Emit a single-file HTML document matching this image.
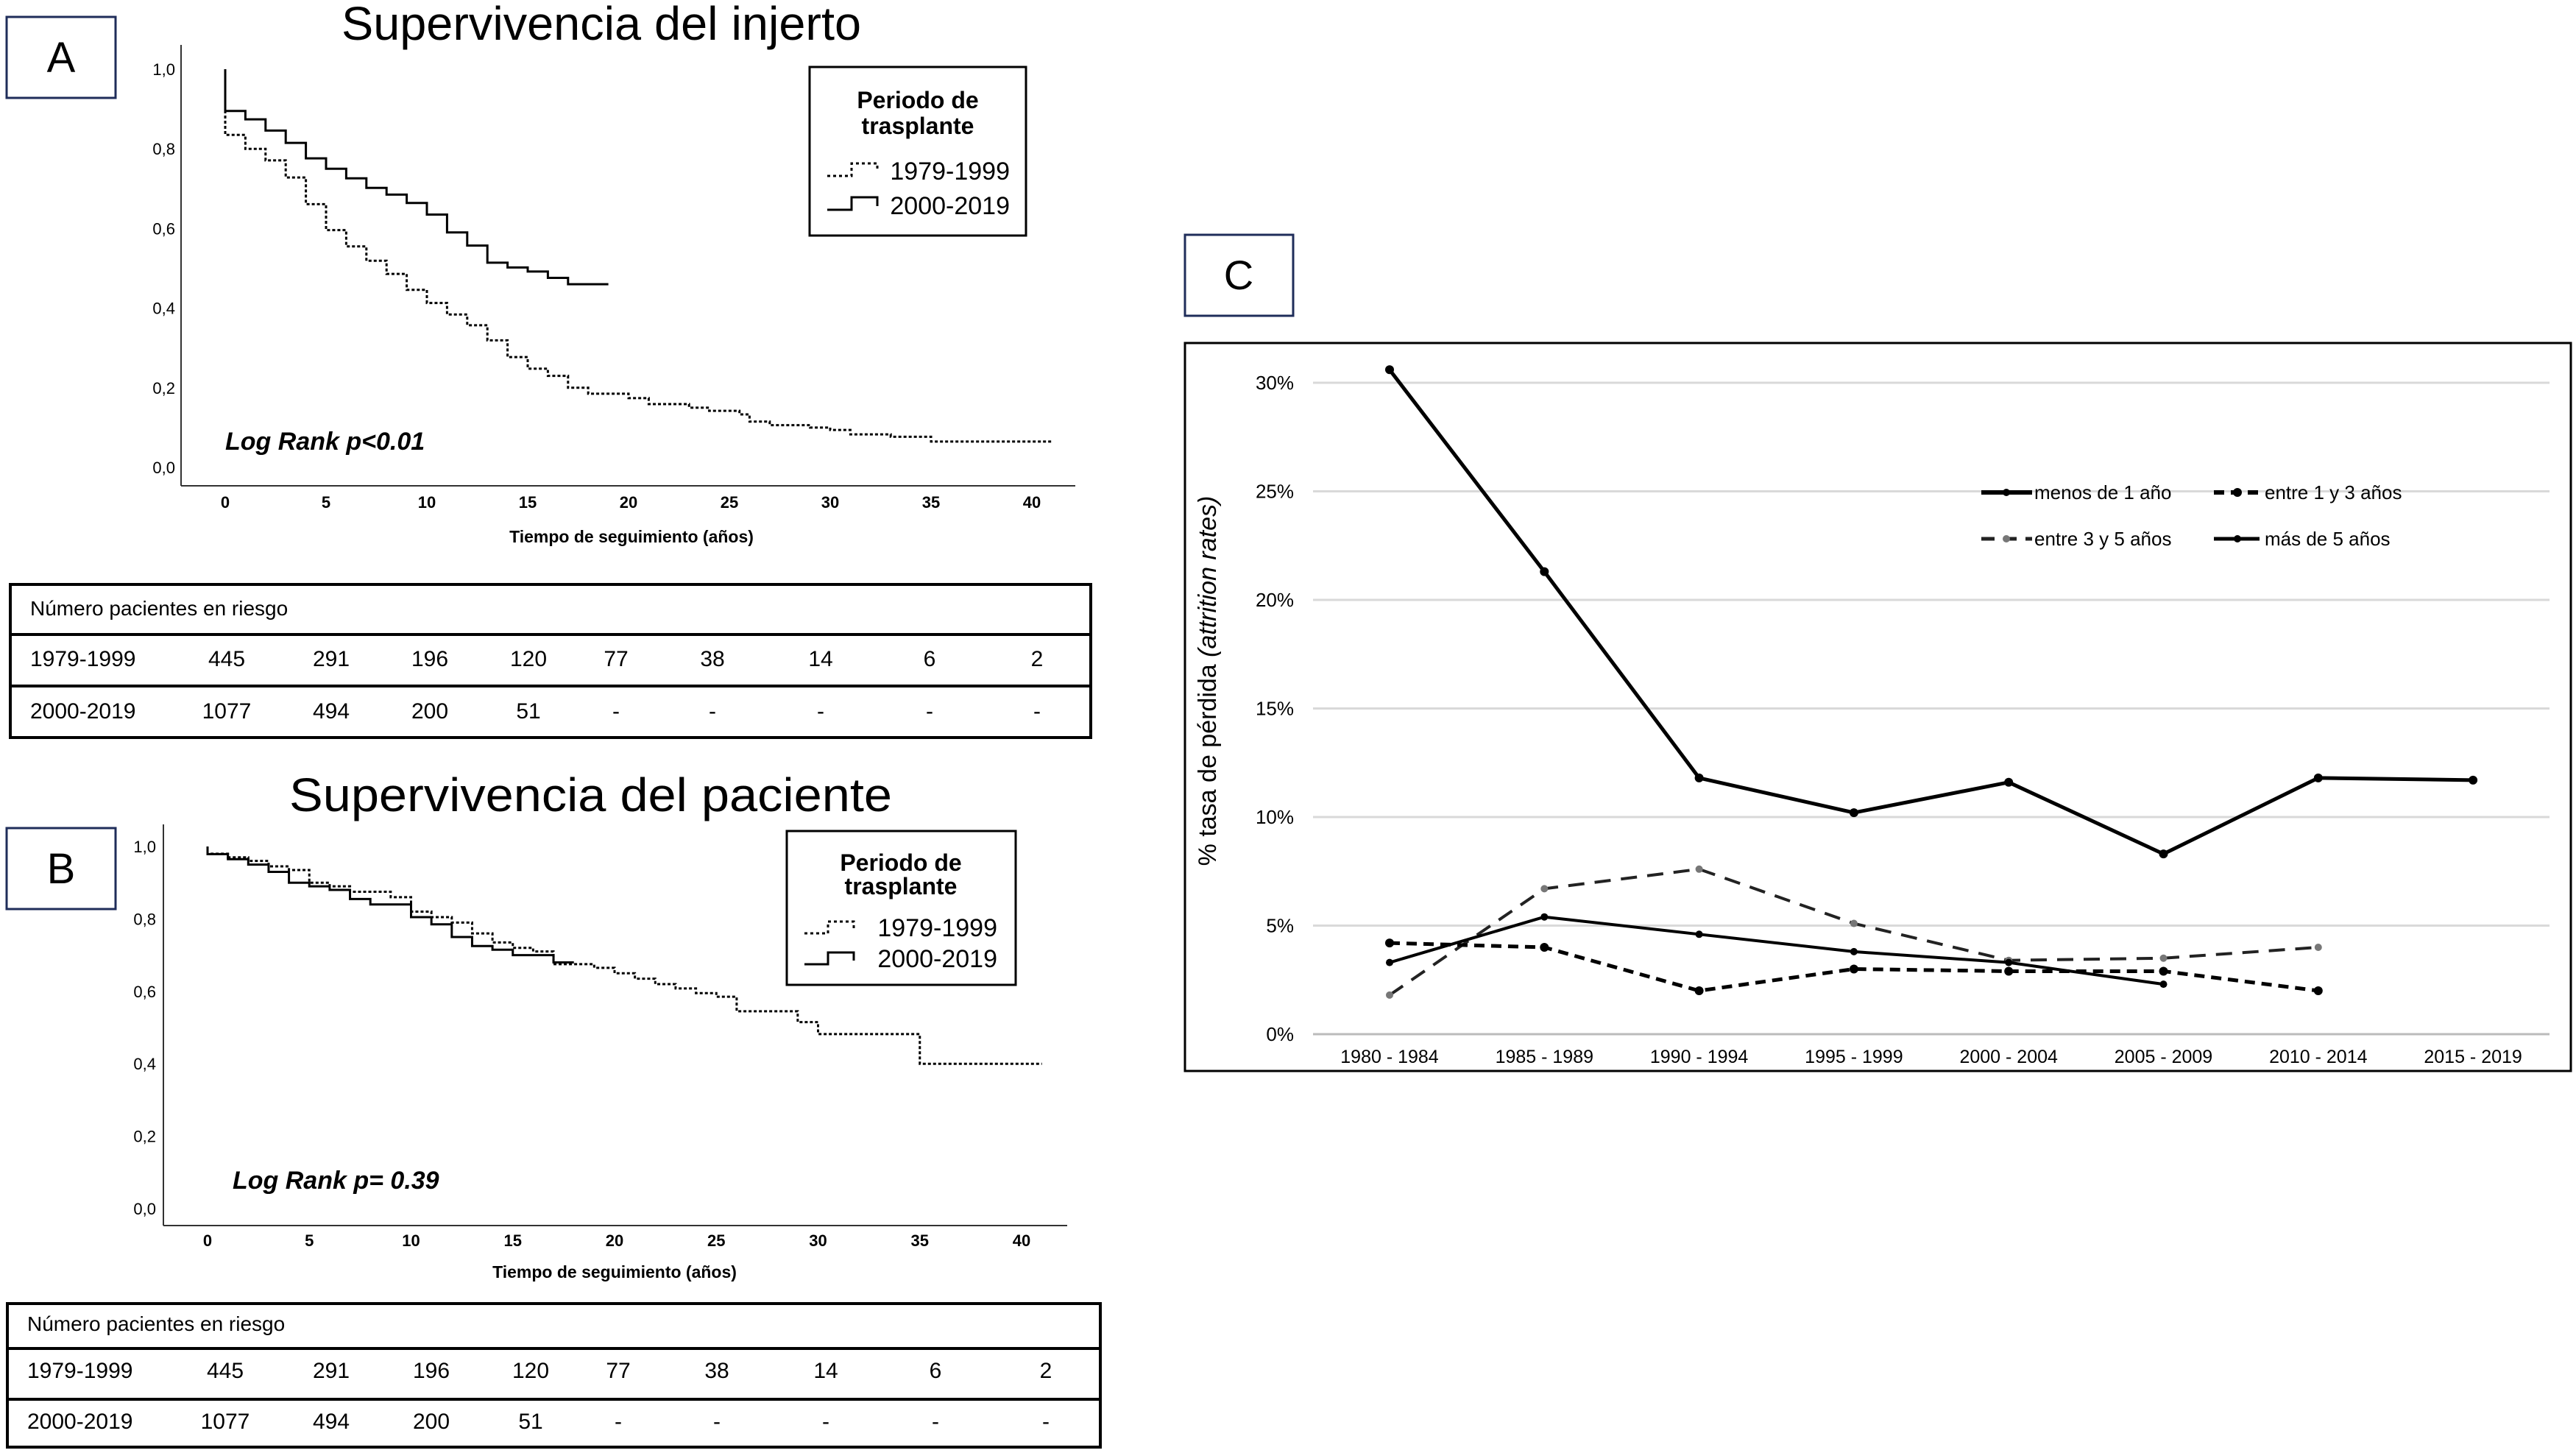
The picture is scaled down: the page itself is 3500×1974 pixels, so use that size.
<!DOCTYPE html>
<html><head><meta charset="utf-8"><style>
html,body{margin:0;padding:0;background:#fff;}
svg{display:block;font-family:"Liberation Sans",sans-serif;}
</style></head><body>
<svg id="fig" width="3500" height="1974" viewBox="0 0 3500 1974" xmlns="http://www.w3.org/2000/svg">
<rect width="3500" height="1974" fill="#fff"/>
<!-- Panel A -->
<g>
<rect x="9" y="23" width="148" height="110" fill="#fff" stroke="#1f2d5a" stroke-width="3"/>
<text x="83" y="98" font-size="58" text-anchor="middle">A</text>
<text x="464" y="54" font-size="64" textLength="706" lengthAdjust="spacingAndGlyphs">Supervivencia del injerto</text>
<g id="axA"></g>
<g id="curA"></g>
<text x="858" y="737" font-size="23" font-weight="bold" text-anchor="middle">Tiempo de seguimiento (años)</text>
<text x="306" y="611" font-size="34" font-weight="bold" font-style="italic">Log Rank p&lt;0.01</text>
<g>
<rect x="1100" y="91" width="294" height="229" fill="#fff" stroke="#000" stroke-width="3"/>
<text x="1247" y="147" font-size="32" font-weight="bold" text-anchor="middle">Periodo de</text>
<text x="1247" y="182" font-size="32" font-weight="bold" text-anchor="middle">trasplante</text>
<path d="M1124 239 H1157 V222 H1192 V232" fill="none" stroke="#000" stroke-width="3" stroke-dasharray="4 4"/>
<text x="1372" y="244" font-size="34" text-anchor="end">1979-1999</text>
<path d="M1124 285 H1157 V268 H1192 V280" fill="none" stroke="#000" stroke-width="3"/>
<text x="1372" y="291" font-size="34" text-anchor="end">2000-2019</text>
</g>
<g id="tabA"></g>
</g>
<!-- Panel B -->
<g>
<rect x="9" y="1125" width="148" height="110" fill="#fff" stroke="#1f2d5a" stroke-width="3"/>
<text x="83" y="1200" font-size="58" text-anchor="middle">B</text>
<text x="393" y="1102" font-size="64" textLength="819" lengthAdjust="spacingAndGlyphs">Supervivencia del paciente</text>
<g id="axB"></g>
<g id="curB"></g>
<text x="835" y="1736" font-size="23" font-weight="bold" text-anchor="middle">Tiempo de seguimiento (años)</text>
<text x="316" y="1615" font-size="34" font-weight="bold" font-style="italic">Log Rank p= 0.39</text>
<g>
<rect x="1069" y="1129" width="311" height="209" fill="#fff" stroke="#000" stroke-width="3"/>
<text x="1224" y="1183" font-size="32" font-weight="bold" text-anchor="middle">Periodo de</text>
<text x="1224" y="1215" font-size="32" font-weight="bold" text-anchor="middle">trasplante</text>
<path d="M1093 1268 H1125 V1252 H1160 V1262" fill="none" stroke="#000" stroke-width="3" stroke-dasharray="4 4"/>
<text x="1355" y="1272" font-size="34" text-anchor="end">1979-1999</text>
<path d="M1093 1310 H1125 V1294 H1160 V1305" fill="none" stroke="#000" stroke-width="3"/>
<text x="1355" y="1314" font-size="34" text-anchor="end">2000-2019</text>
</g>
<g id="tabB"></g>
</g>
<!-- Panel C -->
<g>
<rect x="1610" y="319" width="147" height="110" fill="#fff" stroke="#1f2d5a" stroke-width="3"/>
<text x="1683" y="393" font-size="56" text-anchor="middle">C</text>
<rect x="1610" y="466" width="1883" height="989" fill="#fff" stroke="#000" stroke-width="3"/>
<g id="axC"></g>
<text transform="translate(1652,925) rotate(-90)" font-size="34" text-anchor="middle">% tasa de pérdida <tspan font-style="italic">(attrition rates)</tspan></text>
<g id="serC"></g>
<g>
<g><line x1="2692" y1="669" x2="2761" y2="669" stroke="#000" stroke-width="6"/><circle cx="2726" cy="669" r="5"/><text x="2764" y="678" font-size="26">menos de 1 año</text></g>
<g><line x1="3008" y1="669" x2="3070" y2="669" stroke="#000" stroke-width="6" stroke-dasharray="14 9"/><circle cx="3040" cy="669" r="6"/><text x="3077" y="678" font-size="26">entre 1 y 3 años</text></g>
<g><line x1="2692" y1="732" x2="2761" y2="732" stroke="#222" stroke-width="5" stroke-dasharray="18 12"/><circle cx="2726" cy="732" r="5" fill="#777"/><text x="2764" y="741" font-size="26">entre 3 y 5 años</text></g>
<g><line x1="3008" y1="732" x2="3070" y2="732" stroke="#000" stroke-width="5"/><circle cx="3040" cy="732" r="5"/><text x="3077" y="741" font-size="26">más de 5 años</text></g>
</g>
</g>
</svg>
<script>
const NS='http://www.w3.org/2000/svg';
// ---- Panel A data (graft survival) ----
const graftTimes2000=[0,1,2,3,4,5,6,7,8,9,10,11,12,13,14,15,16,17];
const graftSurv2000=[0.895,0.874,0.846,0.815,0.776,0.75,0.726,0.702,0.685,0.664,0.635,0.59,0.557,0.514,0.502,0.492,0.476,0.46];
const graftEnd2000=19;
const graftTimes1979=[0,1,2,3,4,5,6,7,8,9,10,11,12,13,14,15,16,17,18,20,21,23,24,25.5,26,27,29,30,31,33,35];
const graftSurv1979=[0.835,0.80,0.771,0.728,0.661,0.596,0.555,0.519,0.486,0.446,0.413,0.384,0.357,0.319,0.277,0.248,0.23,0.2,0.185,0.174,0.159,0.15,0.142,0.133,0.115,0.106,0.1,0.094,0.083,0.077,0.065];
const graftEnd1979=41;
// ---- Panel B data (patient survival) ----
const patTimes2000=[0,1,2,3,4,5,6,7,8,10,11,12,13,14,15,17];
const patSurv2000=[0.979,0.965,0.95,0.93,0.90,0.89,0.88,0.855,0.84,0.805,0.785,0.75,0.725,0.715,0.70,0.68];
const patEnd2000=18;
const patTimes1979=[0,1,2,3,4,5,6,7,9,10,11,12,13,14,15,16,17,19,20,21,22,23,24,25,26,29,30,35];
const patSurv1979=[0.98,0.97,0.96,0.945,0.935,0.90,0.89,0.875,0.86,0.82,0.805,0.79,0.76,0.735,0.72,0.71,0.675,0.665,0.65,0.635,0.62,0.608,0.595,0.585,0.545,0.515,0.482,0.40];
const patEnd1979=41;
const kmXTicks=[0,5,10,15,20,25,30,35,40];
const kmYTicks=[0,0.2,0.4,0.6,0.8,1.0];
const kmYLabels=['0,0','0,2','0,4','0,6','0,8','1,0'];
// ---- Risk table ----
const riskHeader='Número pacientes en riesgo';
const riskGroups=['1979-1999','2000-2019'];
const risk1979=['445','291','196','120','77','38','14','6','2'];
const risk2000=['1077','494','200','51','-','-','-','-','-'];
// ---- Panel C data ----
const periods=['1980 - 1984','1985 - 1989','1990 - 1994','1995 - 1999','2000 - 2004','2005 - 2009','2010 - 2014','2015 - 2019'];
const menos1=[30.6,21.3,11.8,10.2,11.6,8.3,11.8,11.7];
const entre1y3=[4.2,4.0,2.0,3.0,2.9,2.9,2.0];
const entre3y5=[1.8,6.7,7.6,5.1,3.4,3.5,4.0];
const mas5=[3.3,5.4,4.6,3.8,3.3,2.3];
const pctTicks=[0,5,10,15,20,25,30];

function el(tag,attrs,parent,txt){const e=document.createElementNS(NS,tag);for(const k in attrs)e.setAttribute(k,attrs[k]);if(txt!==undefined)e.textContent=txt;parent.appendChild(e);return e;}

function kmAxes(g,x,y,x0,x1,yTop,yBot,labelX,tickLabelY){
  el('line',{x1:x0,y1:yTop,x2:x0,y2:yBot,stroke:'#333','stroke-width':2},g);
  el('line',{x1:x0,y1:yBot,x2:x1,y2:yBot,stroke:'#333','stroke-width':2},g);
  kmYTicks.forEach((v,i)=>{const t=el('text',{x:labelX,y:y(v)+8,'font-size':22,'text-anchor':'end'},g,kmYLabels[i]);
    
    });
  kmXTicks.forEach(v=>{const t=el('text',{x:x(v),y:tickLabelY,'font-size':22,'font-weight':'bold','text-anchor':'middle'},g,String(v));
    
    });
}
function kmPath(g,x,y,times,surv,end,dashed,name){
  let d='M'+x(0)+' '+y(1);
  times.forEach((t,i)=>{d+=' H'+x(t)+' V'+y(surv[i]);});
  d+=' H'+x(end);
  const p=el('path',{d:d,fill:'none',stroke:'#000','stroke-width':3},g);
  if(dashed)p.setAttribute('stroke-dasharray','4 3');
  
  
}
function riskTable(g,x0,x1,rows,cols,textY){
  el('rect',{x:x0,y:rows[0],width:x1-x0,height:rows[3]-rows[0],fill:'none',stroke:'#000','stroke-width':4},g);
  el('line',{x1:x0,y1:rows[1],x2:x1,y2:rows[1],stroke:'#000','stroke-width':4},g);
  el('line',{x1:x0,y1:rows[2],x2:x1,y2:rows[2],stroke:'#000','stroke-width':4},g);
  const h=el('text',{x:x0+27,y:textY[0],'font-size':28},g,riskHeader);
  
  
  [risk1979,risk2000].forEach((vals,r)=>{
    const l=el('text',{x:x0+27,y:textY[r+1],'font-size':30},g,riskGroups[r]);
    
    
    vals.forEach((v,i)=>{const c=el('text',{x:cols[i],y:textY[r+1],'font-size':30,'text-anchor':'middle'},g,v);
      
      });
  });
}
// Panel A
const xA=t=>306+t*27.4, yA=v=>635-v*541;
kmAxes(document.getElementById('axA'),xA,yA,246,1461,61,660,238,690);
const cA=document.getElementById('curA');
kmPath(cA,xA,yA,graftTimes1979,graftSurv1979,graftEnd1979,true,'graft-curve-1979-1999');
kmPath(cA,xA,yA,graftTimes2000,graftSurv2000,graftEnd2000,false,'graft-curve-2000-2019');
riskTable(document.getElementById('tabA'),14,1482,[794,862,932,1002],[308,450,584,718,837,968,1115,1263,1409],[836,905,976]);
// Panel B
const xB=t=>282+t*27.65, yB=v=>1642-v*492;
kmAxes(document.getElementById('axB'),xB,yB,222,1450,1120,1665,212,1693);
const cB=document.getElementById('curB');
kmPath(cB,xB,yB,patTimes1979,patSurv1979,patEnd1979,true,'patient-curve-1979-1999');
kmPath(cB,xB,yB,patTimes2000,patSurv2000,patEnd2000,false,'patient-curve-2000-2019');
riskTable(document.getElementById('tabB'),10,1495,[1771,1832,1901,1966],[306,450,586,721,840,974,1122,1271,1421],[1808,1872,1941]);
// Panel C
const xC=i=>1888+i*210.3, yC=p=>1405-p*29.5;
const aC=document.getElementById('axC');
pctTicks.forEach(p=>{
  const gl=el('line',{x1:1784,y1:yC(p),x2:3464,y2:yC(p),stroke:p===0?'#bbb':'#d9d9d9','stroke-width':3},aC);
  
  
  const t=el('text',{x:1758,y:yC(p)+9,'font-size':26,'text-anchor':'end'},aC,p+'%');
  
  
});
periods.forEach((c,i)=>{const t=el('text',{x:xC(i),y:1444,'font-size':25,'text-anchor':'middle'},aC,c);
  
  });
const sC=document.getElementById('serC');
function series(vals,name,stroke,width,dash,mfill,mr){
  const pts=vals.map((v,i)=>xC(i)+','+yC(v)).join(' ');
  const pl=el('polyline',{points:pts,fill:'none',stroke:stroke,'stroke-width':width,'stroke-linejoin':'round'},sC);
  if(dash)pl.setAttribute('stroke-dasharray',dash);
  
  
  vals.forEach((v,i)=>{const m=el('circle',{cx:xC(i),cy:yC(v),r:mr,fill:mfill},sC);
    
    });
}
series(entre3y5,'entre-3-y-5','#222',4,'22 14','#777',5);
series(mas5,'mas-de-5','#000',4,null,'#000',5);
series(entre1y3,'entre-1-y-3','#000',5,'14 9','#000',6);
series(menos1,'menos-de-1','#000',5,null,'#000',6);
</script>
</body></html>
